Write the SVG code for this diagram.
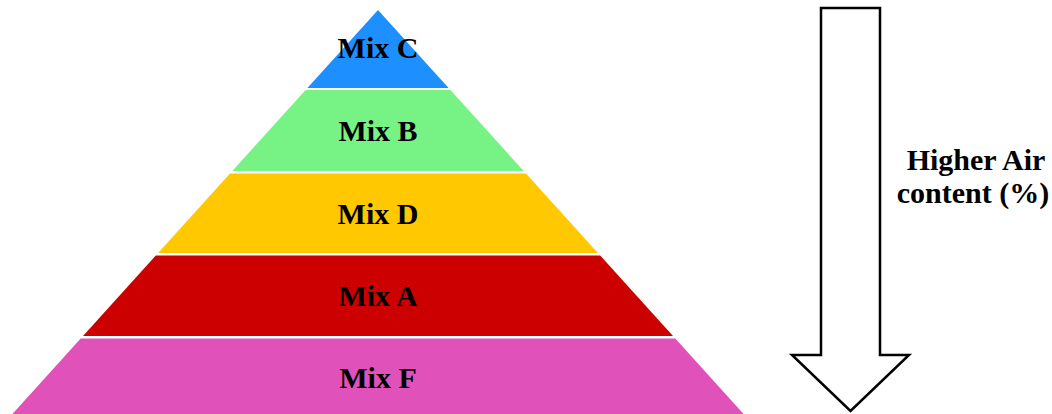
<svg xmlns="http://www.w3.org/2000/svg" width="1052" height="414" viewBox="0 0 1052 414">
<style>
.lbl{font-family:"Liberation Serif","Times New Roman",serif;font-weight:bold;font-size:30px;fill:#000;text-anchor:middle}
</style>
<rect width="1052" height="414" fill="#fff"/>
<g id="mix-c"><polygon points="378,10 448.6,88 307.4,88" fill="#1E8FFF"/><text class="lbl" x="378" y="58">Mix C</text></g>
<g id="mix-b"><polygon points="305.6,90 450.4,90 523.7,171 232.3,171" fill="#77F285"/><text class="lbl" x="378" y="141">Mix B</text></g>
<g id="mix-d"><polygon points="230,173.5 526,173.5 597.9,253 158.1,253" fill="#FFC800"/><text class="lbl" x="378" y="224">Mix D</text></g>
<g id="mix-a"><polygon points="155.8,255.5 600.2,255.5 673,336 83,336" fill="#CC0000"/><text class="lbl" x="378" y="306">Mix A</text></g>
<g id="mix-f"><polygon points="80.7,338.5 675.3,338.5 749,420 7,420" fill="#E052B9"/><text class="lbl" x="378" y="388">Mix F</text></g>
<g id="connectors">
<g id="arrow"><polygon points="821,8 880,8 880,355 909,355 850.5,411 792,355 821,355" fill="#fff" stroke="#000" stroke-width="2.5" stroke-linejoin="miter"/></g>
</g>
<g id="label-air"><text class="lbl" x="976" y="170">Higher Air</text><text class="lbl" x="973" y="203">content (%)</text></g>
</svg>
